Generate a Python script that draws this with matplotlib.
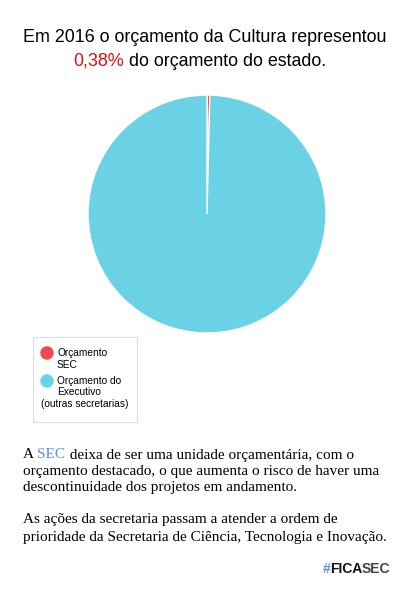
import matplotlib.pyplot as plt
from matplotlib.patches import Rectangle

# data
labels = ["Orçamento\nSEC", "Orçamento do\nExecutivo"]
shares = [0.38, 99.62]
colors = ["#f2474f", "#6bd2e6"]

W, H = 400, 600
fig = plt.figure(figsize=(4, 6), dpi=100)
fig.patch.set_facecolor("white")


def px(x, y):
    return x / W, 1 - y / H


# title
fig.text(*px(205, 38), "Em 2016 o orçamento da Cultura representou",
         ha="center", va="center", fontsize=12.9, family="Liberation Sans")
fig.canvas.draw()
r = fig.canvas.get_renderer()
t1 = fig.text(0, 0, "0,38%", color="#e0100f", fontsize=12.9,
              family="Liberation Sans", va="center")
t2 = fig.text(0, 0, " do orçamento do estado.", fontsize=12.9,
              family="Liberation Sans", va="center")
w1 = t1.get_window_extent(r).width
w2 = t2.get_window_extent(r).width
x0 = 200 - (w1 + w2) / 2
t1.set_position(px(x0, 61))
t2.set_position(px(x0 + w1, 61))

# pie
cx, cy, rad = 207, 214, 119
ax = fig.add_axes([(cx - rad) / W, 1 - (cy + rad) / H, 2 * rad / W, 2 * rad / H])
ax.pie(shares, colors=colors, startangle=90, counterclock=False,
       wedgeprops=dict(edgecolor="white", linewidth=1))
ax.set_xlim(-1, 1)
ax.set_ylim(-1, 1)
ax.set_aspect("equal")

# legend box
lax = fig.add_axes([0, 0, 1, 1], facecolor="none")
lax.set_xlim(0, W)
lax.set_ylim(H, 0)
lax.axis("off")
lax.add_patch(Rectangle((33, 337), 104, 85, facecolor="white",
                        edgecolor="#dddddd", linewidth=0.8))
lax.scatter([47, 47], [353, 381], s=75, c=colors, zorder=3)
lfont = dict(fontsize=7.3, family="Liberation Sans", va="center")
lax.text(57, 353, "Orçamento", **lfont)
lax.text(57, 365, "SEC", **lfont)
lax.text(57, 381, "Orçamento do", **lfont)
lax.text(57, 392, "Executivo", **lfont)
lax.text(41, 404, "(outras secretarias)", **lfont)

# body text
bfont = dict(fontsize=10.95, family="Liberation Serif", va="center")
a = lax.text(23, 455, "A", **bfont)
fig.canvas.draw()
xa = 23 + a.get_window_extent(r).width + 3.5
sec = lax.text(xa, 455, "SEC", color="#5b8def", **bfont)
fig.canvas.draw()
xb = xa + sec.get_window_extent(r).width
lax.text(xb, 455, " deixa de ser uma unidade orçamentária, com o", **bfont)
lax.text(23, 471, "orçamento destacado, o que aumenta o risco de haver uma", **bfont)
lax.text(23, 487, "descontinuidade dos projetos em andamento.", **bfont)
lax.text(23, 520, "As ações da secretaria passam a atender a ordem de", **bfont)
lax.text(23, 537, "prioridade da Secretaria de Ciência, Tecnologia e Inovação.", **bfont)

# hashtag
hfont = dict(fontsize=10, family="Liberation Sans", weight="bold", va="center")
h = lax.text(323, 569, "#", color="#5b8def", **hfont)
fig.canvas.draw()
xh = 323 + h.get_window_extent(r).width - 1
f = lax.text(xh, 569, "FICA", color="#111111", **hfont)
fig.canvas.draw()
xf = xh + f.get_window_extent(r).width
lax.text(xf, 569, "SEC", color="#444444", **hfont)

fig.savefig("out.png", dpi=100)
